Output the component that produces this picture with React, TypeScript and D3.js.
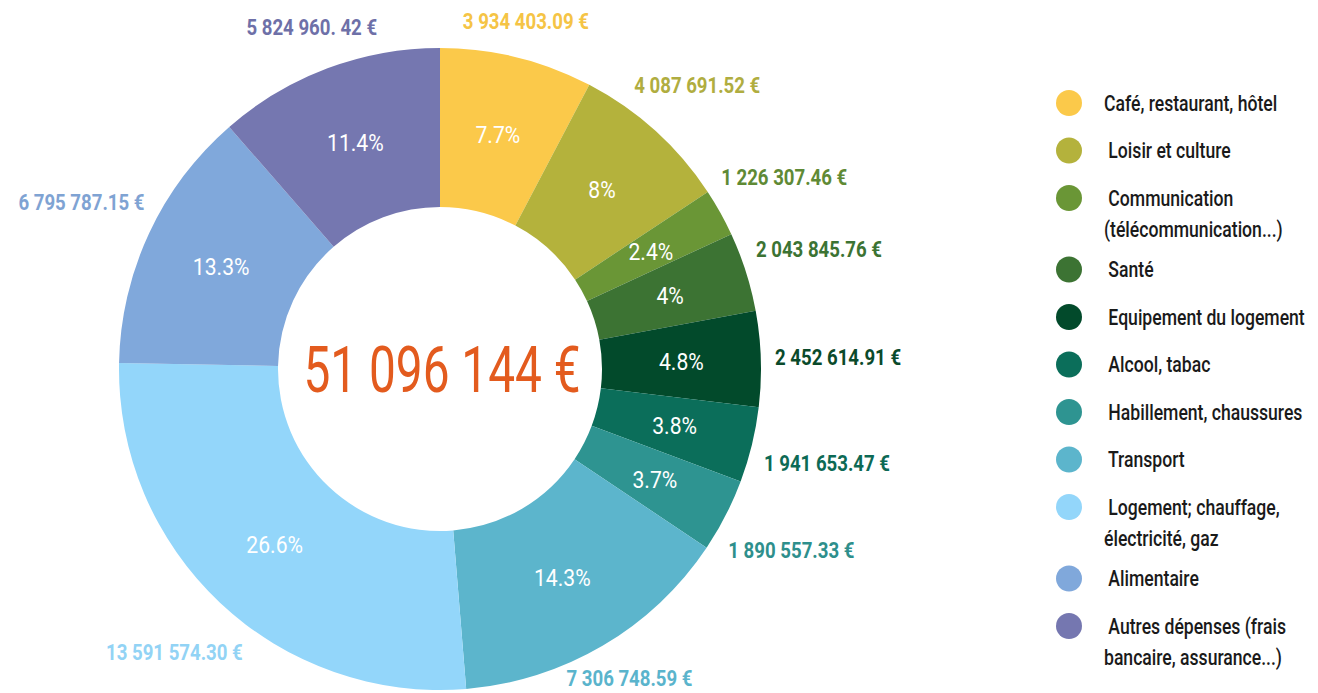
import React, { useEffect, useRef } from "react";
import * as d3 from "d3";

const categories = [
  "Café, restaurant, hôtel",
  "Loisir et culture",
  "Communication (télécommunication...)",
  "Santé",
  "Equipement du logement",
  "Alcool, tabac",
  "Habillement, chaussures",
  "Transport",
  "Logement; chauffage, électricité, gaz",
  "Alimentaire",
  "Autres dépenses (frais bancaire, assurance...)",
];

const legendLines = [
  ["Café, restaurant, hôtel"],
  [" Loisir et culture"],
  [" Communication", "(télécommunication...)"],
  [" Santé"],
  [" Equipement du logement"],
  [" Alcool, tabac"],
  [" Habillement, chaussures"],
  [" Transport"],
  [" Logement; chauffage,", "électricité, gaz"],
  [" Alimentaire"],
  [" Autres dépenses (frais", "bancaire, assurance...)"],
];

const values = [
  3934403.09, 4087691.52, 1226307.46, 2043845.76, 2452614.91, 1941653.47,
  1890557.33, 7306748.59, 13591574.3, 6795787.15, 5824960.42,
];

const valueLabels = [
  "3 934 403.09 €",
  "4 087 691.52 €",
  "1 226 307.46 €",
  "2 043 845.76 €",
  "2 452 614.91 €",
  "1 941 653.47 €",
  "1 890 557.33 €",
  "7 306 748.59 €",
  "13 591 574.30 €",
  "6 795 787.15 €",
  "5 824 960. 42 €",
];

const colors = [
  "#FBC94A",
  "#B4B23C",
  "#6A9636",
  "#3C7333",
  "#024A2B",
  "#0B6E5A",
  "#2E9491",
  "#5CB5CC",
  "#93D6FA",
  "#80A8DB",
  "#7577B0",
];

const labelColors = [
  "#F5C445",
  "#B0AD40",
  "#5F8A35",
  "#3C7333",
  "#0A4A2B",
  "#0D6A55",
  "#2E8F8C",
  "#5AB4CC",
  "#92D3F5",
  "#7FA3D3",
  "#6E70A8",
];

const FONT = "Roboto, 'DejaVu Sans', sans-serif";

export default function App() {
  const ref = useRef<SVGSVGElement | null>(null);

  useEffect(() => {
    const svg = d3.select(ref.current);
    svg.selectAll("*").remove();

    const W = 1318;
    const H = 693;
    const cx = 440;
    const cy = 369;
    const outerR = 321;
    const innerR = 162;

    const total = d3.sum(values);
    const data = values.map((v, i) => ({ v, i }));
    const pie = d3.pie<{ v: number; i: number }>().value((d) => d.v).sort(null);
    const arcs = pie(data);
    const arc = d3.arc<d3.PieArcDatum<{ v: number; i: number }>>().innerRadius(innerR).outerRadius(outerR);

    svg.append("rect").attr("width", W).attr("height", H).attr("fill", "#ffffff");

    const g = svg.append("g").attr("transform", `translate(${cx},${cy})`);

    g.selectAll("path.slice")
      .data(arcs)
      .join("path")
      .attr("class", "slice")
      .attr("d", arc)
      .attr("fill", (d) => colors[d.data.i]);

    const pctFmt = (v: number) => {
      const p = Math.round((v / total) * 1000) / 10;
      return `${p}%`;
    };

    // percent labels
    const pg = g
      .selectAll("g.pct")
      .data(arcs)
      .join("g")
      .attr("class", "pct")
      .attr("transform", (d) => {
        const [x, y] = arc.centroid(d);
        return `translate(${x},${y})`;
      });
    pg.append("text")
      .attr("transform", "scale(0.92,1)")
      .attr("text-anchor", "middle")
      .attr("dy", "0.36em")
      .attr("fill", "#ffffff")
      .style("font-family", FONT)
      .style("font-size", "23px")
      .text((d) => pctFmt(d.data.v));

    // Value labels outside, nearest edge sits at radius R
    const R = 335;
    const halfH = 8.5;
    const vs = 0.81;
    const vg = g.selectAll("g.val").data(arcs).join("g").attr("class", "val");
    vg.append("text")
      .attr("transform", `scale(${vs},1)`)
      .attr("text-anchor", "middle")
      .attr("dy", "0.36em")
      .attr("fill", (d) => labelColors[d.data.i])
      .style("font-family", FONT)
      .style("font-weight", "bold")
      .style("font-size", "23px")
      .text((d) => valueLabels[d.data.i]);

    vg.each(function (d) {
      const el = (this as SVGGElement).querySelector("text") as SVGTextElement;
      const w = el.getComputedTextLength() * vs;
      const a = (d.startAngle + d.endAngle) / 2;
      const s = Math.sin(a);
      const c = -Math.cos(a);
      const off = R + (w / 2) * Math.abs(s) + halfH * Math.abs(c);
      const x = off * s;
      const y = Math.min(off * c, H - cy - 15);
      d3.select(this as SVGGElement).attr("transform", `translate(${x},${y})`);
    });

    // Center total
    const loc = d3.formatLocale({ decimal: ".", thousands: " ", grouping: [3], currency: ["", " €"] });
    g.append("g")
      .attr("transform", "translate(2,0)")
      .append("text")
      .attr("transform", "scale(0.735,1)")
      .attr("text-anchor", "middle")
      .attr("dy", "0.36em")
      .attr("fill", "#E35B1E")
      .style("font-family", FONT)
      .style("font-size", "65px")
      .text(loc.format("$,.0f")(total));

    // Legend
    const lg = svg.append("g").attr("transform", "translate(1069,103)");
    let y = 0;
    legendLines.forEach((lines, i) => {
      const row = lg.append("g").attr("transform", `translate(0,${y})`);
      row.append("circle").attr("r", 13).attr("fill", colors[i]);
      lines.forEach((t, j) => {
        row
          .append("g")
          .attr("transform", `translate(35,${j * 31})`)
          .append("text")
          .attr("transform", "scale(0.8,1)")
          .attr("dy", "0.36em")
          .attr("fill", "#1a1a1a")
          .style("font-family", FONT)
          .style("font-weight", "500")
          .style("font-size", "22px")
          .style("white-space", "pre")
          .text(t);
      });
      y += 47.5 + (lines.length - 1) * 24;
    });
  }, []);

  return (
    <svg
      ref={ref}
      width={1318}
      height={693}
      style={{ position: "absolute", left: 0, top: 0, display: "block" }}
    />
  );
}
